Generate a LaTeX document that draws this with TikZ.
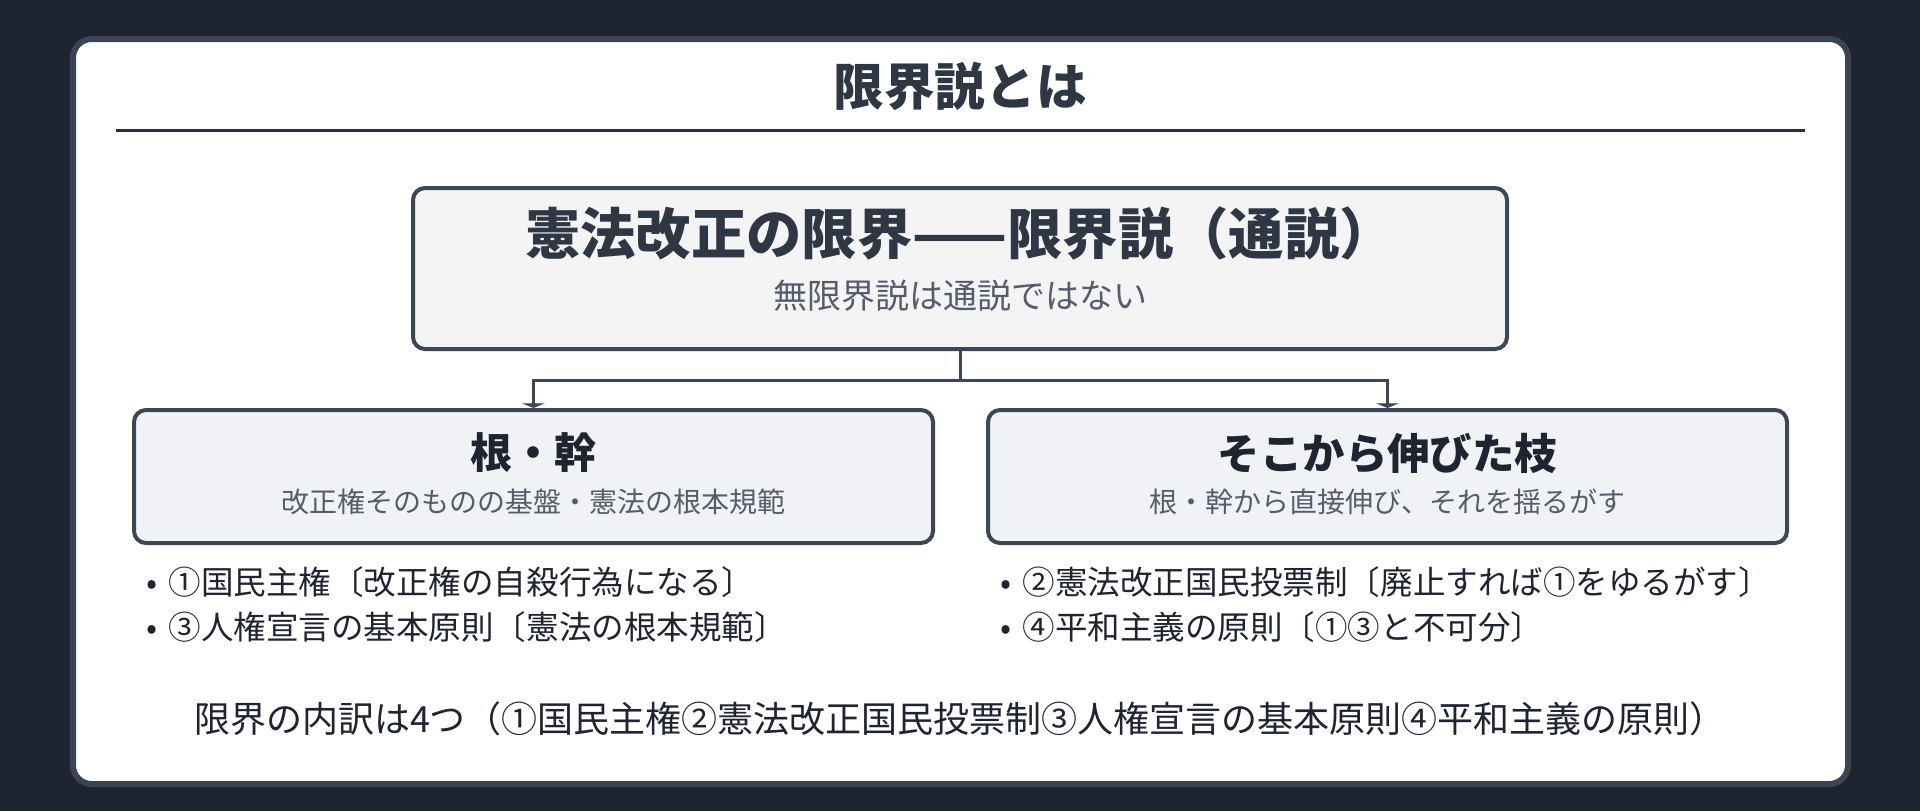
\documentclass[tikz,border=0pt]{standalone}
\usepackage{fontspec}
\setmainfont{Noto Sans CJK JP}
\usetikzlibrary{arrows.meta}
\definecolor{bgc}{HTML}{1E2530}
\definecolor{panelc}{HTML}{3B4452}
\definecolor{rulec}{HTML}{2A303B}
\definecolor{boxline}{HTML}{3D4654}
\definecolor{mainfill}{HTML}{F4F4F5}
\definecolor{subfill}{HTML}{F0F2F5}
\definecolor{titlec}{HTML}{2F3744}
\definecolor{greyc}{HTML}{555D6A}
\definecolor{textc}{HTML}{1F2430}
\newcommand{\bdot}{•\hspace{8.5pt}}
\tikzset{
  boxstyle/.style={draw=boxline, line width=3pt, rounded corners=9pt, inner sep=0pt},
  mainbox/.style={boxstyle, fill=mainfill, minimum width=820.5pt, minimum height=120.75pt},
  subbox/.style={boxstyle, fill=subfill, minimum width=599.25pt, minimum height=99.75pt},
  conn/.style={draw=boxline, line width=2.25pt},
  tip/.style={-{Triangle[width=17pt,length=3.5pt]}},
  txt/.style={inner sep=0pt, anchor=center},
  bul/.style={inner sep=0pt, anchor=west, text=textc, font=\fontsize{24.4pt}{28pt}\selectfont},
}
\begin{document}
\begin{tikzpicture}[x=0.75pt,y=-0.75pt]
\fill[bgc] (0,0) rectangle (1920,811);
\useasboundingbox (0,0) rectangle (1920,811);
\draw[panelc, line width=4.5pt, fill=white, rounded corners=14pt] (73,39) rectangle (1848,784);
\node[txt, text=titlec, font=\fontsize{38pt}{42pt}\selectfont\bfseries] (title) at (960,86) {限界説とは};
\coordinate (rl) at (116,130);
\coordinate (rr) at (1805,130);
\draw[rulec, line width=2.25pt] (rl) -- (rr);

\node[mainbox] (main) at (960,268.5) {};
\node[txt, text=titlec, font=\fontsize{41.5pt}{46pt}\selectfont\bfseries] (mt) at (960,233) {憲法改正の限界——限界説（通説）};
\node[txt, text=greyc, font=\fontsize{25.5pt}{30pt}\selectfont] (ms) at (960,296) {無限界説は通説ではない};

\node[subbox] (lb) at (533.5,476.5) {};
\node[subbox] (rb) at (1387.5,476.5) {};
\node[txt, text=textc, font=\fontsize{31.5pt}{36pt}\selectfont\bfseries] (lt) at (533.5,453) {根・幹};
\node[txt, text=greyc, font=\fontsize{21pt}{25pt}\selectfont] (ls) at (533.5,502) {改正権そのものの基盤・憲法の根本規範};
\node[txt, text=textc, font=\fontsize{31.8pt}{36pt}\selectfont\bfseries] (rt) at (1387.5,453) {そこから伸びた枝};
\node[txt, text=greyc, font=\fontsize{21pt}{25pt}\selectfont] (rs) at (1387.5,502) {根・幹から直接伸び、それを揺るがす};

\coordinate (mid) at (960,380);
\draw[conn] (main.south) -- (mid);
\draw[conn, tip] (mid) -| (lb.north);
\draw[conn, tip] (mid) -| (rb.north);

\node[bul] (b1) at (146,582) {\bdot ①国民主権〔改正権の自殺行為になる〕};
\node[bul] (b3) at (146,627) {\bdot ③人権宣言の基本原則〔憲法の根本規範〕};
\node[bul] (b2) at (1000,582) {\bdot ②憲法改正国民投票制〔廃止すれば①をゆるがす〕};
\node[bul] (b4) at (1000,627) {\bdot ④平和主義の原則〔①③と不可分〕};

\node[txt, text=textc, font=\fontsize{27pt}{31pt}\selectfont] (bottom) at (960,719) {限界の内訳は4つ（①国民主権②憲法改正国民投票制③人権宣言の基本原則④平和主義の原則）};
\end{tikzpicture}
\end{document}
